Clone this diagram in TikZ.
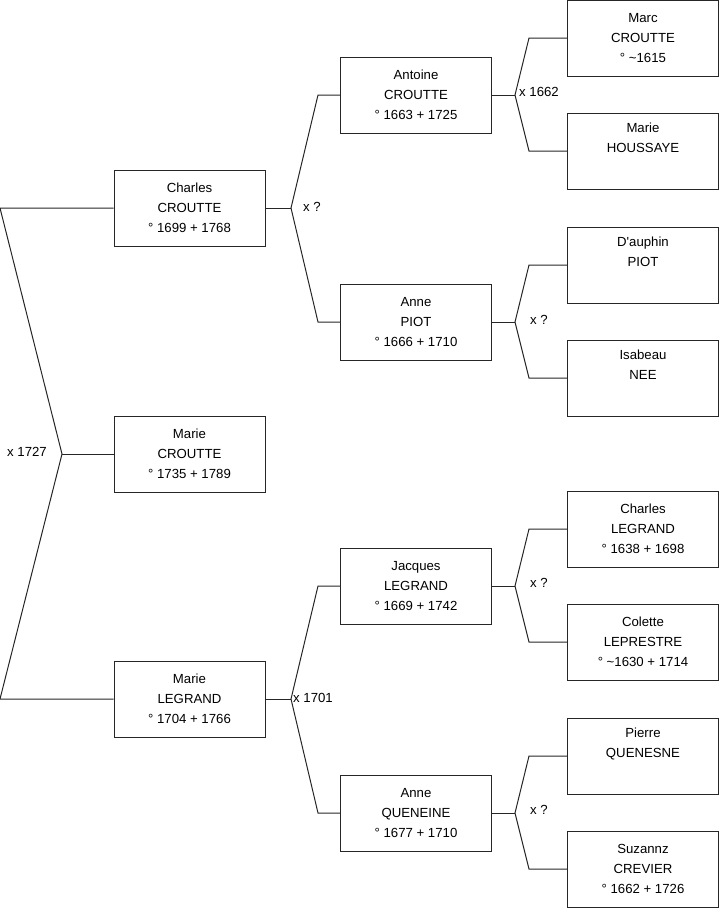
\documentclass[tikz,border=0pt]{standalone}
\usepackage{fontspec}
\setmainfont{Liberation Sans}
\tikzset{
  person/.style={draw=black!85, line width=1pt, minimum width=151pt, minimum height=76pt,
    inner sep=0pt, align=center, font=\fontsize{13.2}{20}\selectfont},
  link/.style={draw=black!85, line width=1pt},
  wed/.style={font=\fontsize{13.2}{14}\selectfont, inner sep=0pt}
}
\begin{document}
\begin{tikzpicture}[x=1pt, y=-1pt]
\useasboundingbox (0,0) rectangle (719,908);
% Generation 1
\node[person] (charles) at (189.5,208) {Charles\\CROUTTE\\° 1699 + 1768};
\node[person] (marie) at (189.5,454) {Marie\\CROUTTE\\° 1735 + 1789};
\node[person] (marielg) at (189.5,699) {Marie\\LEGRAND\\° 1704 + 1766};
% Generation 2
\node[person] (antoine) at (416,95) {Antoine\\CROUTTE\\° 1663 + 1725};
\node[person] (annepiot) at (416,322) {Anne\\PIOT\\° 1666 + 1710};
\node[person] (jacques) at (416,586) {Jacques\\LEGRAND\\° 1669 + 1742};
\node[person] (anneq) at (416,813) {Anne\\QUENEINE\\° 1677 + 1710};
% Generation 3
\node[person] (marc) at (643,38) {Marc\\CROUTTE\\° \textasciitilde1615};
\node[person] (houssaye) at (643,151) {Marie\\HOUSSAYE\\\strut};
\node[person] (dauphin) at (643,265) {D\textquotesingle auphin\\PIOT\\\strut};
\node[person] (isabeau) at (643,378) {Isabeau\\NEE\\\strut};
\node[person] (charleslg) at (643,529) {Charles\\LEGRAND\\° 1638 + 1698};
\node[person] (colette) at (643,642) {Colette\\LEPRESTRE\\° \textasciitilde1630 + 1714};
\node[person] (pierre) at (643,756) {Pierre\\QUENESNE\\\strut};
\node[person] (suzannz) at (643,869) {Suzannz\\CREVIER\\° 1662 + 1726};
% Junctions
\coordinate (j0a) at (0,208);
\coordinate (j0) at (62,454);
\coordinate (j0b) at (0,699);
\coordinate (j1) at (291,208);
\coordinate (j1a) at (318,95);
\coordinate (j1b) at (318,322);
\coordinate (j2) at (291,699);
\coordinate (j2a) at (318,586);
\coordinate (j2b) at (318,813);
\coordinate (j3) at (515,95);
\coordinate (j3a) at (529,38);
\coordinate (j3b) at (529,151);
\coordinate (j4) at (515,322);
\coordinate (j4a) at (529,265);
\coordinate (j4b) at (529,378);
\coordinate (j5) at (515,586);
\coordinate (j5a) at (529,529);
\coordinate (j5b) at (529,642);
\coordinate (j6) at (515,813);
\coordinate (j6a) at (529,756);
\coordinate (j6b) at (529,869);
% Connectors
\draw[link] (charles.west) -- (j0a) -- (j0) -- (j0b) -- (marielg.west);
\draw[link] (j0) -- (marie.west);
\draw[link] (antoine.west) -- (j1a) -- (j1) -- (j1b) -- (annepiot.west);
\draw[link] (j1) -- (charles.east);
\draw[link] (jacques.west) -- (j2a) -- (j2) -- (j2b) -- (anneq.west);
\draw[link] (j2) -- (marielg.east);
\draw[link] (marc.west) -- (j3a) -- (j3) -- (j3b) -- (houssaye.west);
\draw[link] (j3) -- (antoine.east);
\draw[link] (dauphin.west) -- (j4a) -- (j4) -- (j4b) -- (isabeau.west);
\draw[link] (j4) -- (annepiot.east);
\draw[link] (charleslg.west) -- (j5a) -- (j5) -- (j5b) -- (colette.west);
\draw[link] (j5) -- (jacques.east);
\draw[link] (pierre.west) -- (j6a) -- (j6) -- (j6b) -- (suzannz.west);
\draw[link] (j6) -- (anneq.east);
% Marriages
\node[wed] (w0) at (27,452) {x 1727};
\node[wed] (w1) at (312,207) {x ?};
\node[wed, anchor=west] (w2) at (293,698) {x 1701};
\node[wed, anchor=west] (w3) at (519,92) {x 1662};
\node[wed] (w4) at (539,320) {x ?};
\node[wed] (w5) at (539,583) {x ?};
\node[wed] (w6) at (539,810) {x ?};
\end{tikzpicture}
\end{document}
